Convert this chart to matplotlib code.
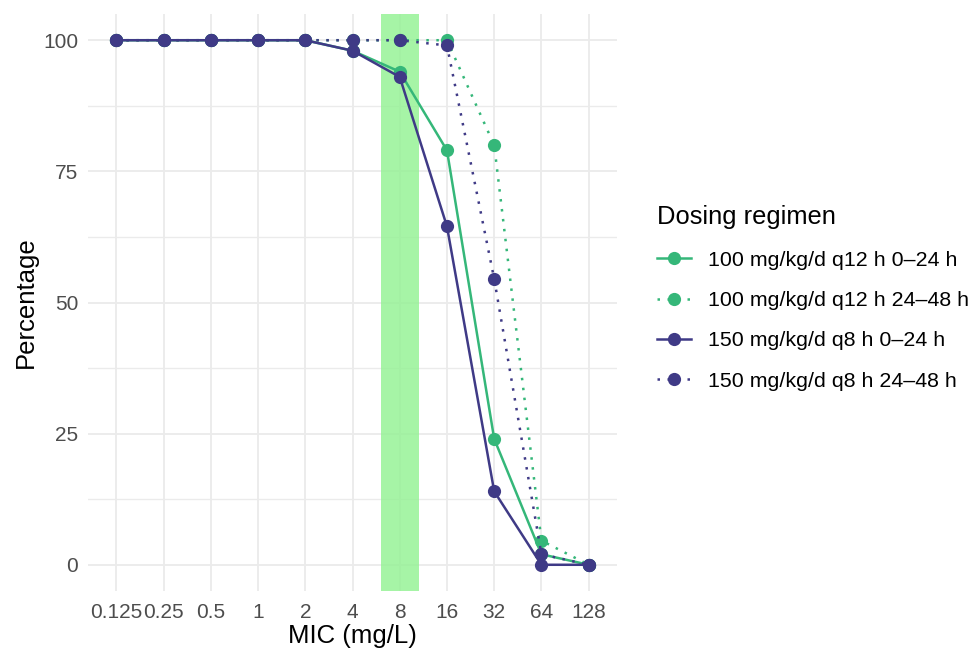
import numpy as np
import matplotlib
matplotlib.use("Agg")
import matplotlib.pyplot as plt
from matplotlib.lines import Line2D

plt.rcParams['font.family'] = ['Liberation Sans', 'DejaVu Sans']

# MIC levels and percentage of simulated patients reaching target
mic_labels = ["0.125", "0.25", "0.5", "1", "2", "4", "8", "16", "32", "64", "128"]
pct_100_q12_0_24 = [100, 100, 100, 100, 100, 98, 94, 79, 24, 2, 0]
pct_100_q12_24_48 = [100, 100, 100, 100, 100, 100, 100, 100, 80, 4.6, 0]
pct_150_q8_0_24 = [100, 100, 100, 100, 100, 98, 93, 64.5, 14, 0, 0]
pct_150_q8_24_48 = [100, 100, 100, 100, 100, 100, 100, 99, 54.5, 2, 0]

regimens = [
    "100 mg/kg/d q12 h 0\u201324 h",
    "100 mg/kg/d q12 h 24\u201348 h",
    "150 mg/kg/d q8 h 0\u201324 h",
    "150 mg/kg/d q8 h 24\u201348 h",
]
breakpoint_mic = "8"

green = "#35B779"
purple = "#3F3A86"
dotted = (0, (1, 3.0))

series = [
    (pct_100_q12_0_24, green, "-"),
    (pct_100_q12_24_48, green, dotted),
    (pct_150_q8_0_24, purple, "-"),
    (pct_150_q8_24_48, purple, dotted),
]

fig = plt.figure(figsize=(9.69, 6.52), dpi=100)
ax = fig.add_axes([88 / 969, 61 / 652, 529 / 969, 577 / 652])

x = np.arange(len(mic_labels))
bp = mic_labels.index(breakpoint_mic)
ax.axvspan(bp - 0.4, bp + 0.4, color="#93F293", alpha=0.82, lw=0, zorder=1)

for vals, col, ls in series:
    ax.plot(x, vals, color=col, linestyle=ls, lw=1.8, marker="o",
            markersize=9.5, markeredgewidth=0, zorder=3)

ax.set_xlim(-0.6, len(mic_labels) - 0.4)
ax.set_ylim(-5, 105)
ax.set_xticks(x)
ax.set_xticklabels(mic_labels)
ax.set_yticks([0, 25, 50, 75, 100])
ax.set_yticks([12.5, 37.5, 62.5, 87.5], minor=True)

ax.grid(True, which="major", color="#EBEBEB", lw=1.3, zorder=0)
ax.grid(True, which="minor", axis="y", color="#EBEBEB", lw=1.0, zorder=0)
ax.set_axisbelow(True)
for s in ax.spines.values():
    s.set_visible(False)
ax.tick_params(which="both", length=0, labelsize=15, colors="#4D4D4D", pad=7)
ax.tick_params(axis="x", pad=9)

ax.set_xlabel("MIC (mg/L)", fontsize=18.5, color="black", labelpad=1)
ax.set_ylabel("Percentage", fontsize=18.5, color="black", labelpad=4)

handles = [
    Line2D([0], [0], color=col, linestyle=ls, lw=1.8, marker="o",
           markersize=9.5, markeredgewidth=0)
    for _, col, ls in series
]
leg = fig.legend(handles, regimens, title="Dosing regimen",
                 loc="upper left", bbox_to_anchor=(638 / 969, 466 / 652),
                 frameon=False, fontsize=15.4, title_fontsize=18.4,
                 handlelength=1.6, handletextpad=0.75, labelspacing=1.0)
leg._legend_box.align = "left"

fig.savefig("out.png", dpi=100)
